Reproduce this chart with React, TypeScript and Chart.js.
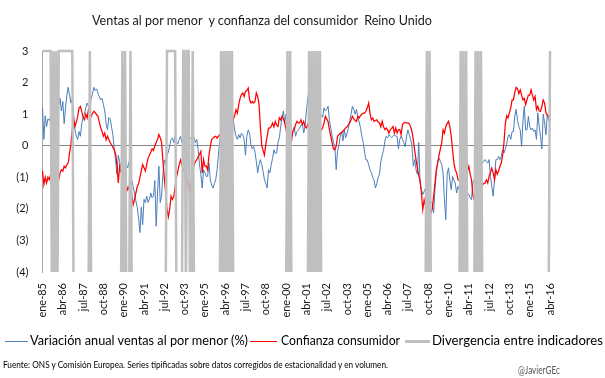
import React, { useEffect, useLayoutEffect, useRef } from 'react';
import { Chart, registerables } from 'chart.js';

Chart.register(...registerables);

// ---- categories ----
const MONTHS = ['ene', 'feb', 'mar', 'abr', 'may', 'jun', 'jul', 'ago', 'sep', 'oct', 'nov', 'dic'];
const START_YEAR = 1985;
const TICK_EVERY = 15; // one tick label every 15 months (ene-85, abr-86, ...)

// ---- series: Variación anual ventas al por menor (standardised), monthly ene-85 .. abr-16 ----
const retailSales = [
  1.2, 0.2, 0.95, 0.6, 0.85, 0.8, 0.9, 1.0, 0.8, 1.1, 0.9, 1.2,
  1.3, 1.5, 1.1, 1.4, 0.7, 1.2, 1.6, 1.85, 1.6, 1.35, 1.5, 1.0,
  0.5, 0.3, 0.2, 0.45, 0.3, 0.7, 0.9, 1.0, 1.2, 1.35, 1.25, 1.3,
  1.5, 1.65, 1.85, 1.75, 1.8, 1.65, 1.55, 1.45, 1.5, 1.3, 1.1, 0.7,
  0.5, 0.9, 0.85, 0.6, 0.35, -0.1, -0.45, -0.9, -0.3, -0.5, -0.7, -0.4,
  -0.5, -0.4, -0.6, -0.7, -0.5, -0.8, -1.1, -1.3, -1.5, -1.75, -1.95, -2.3,
  -2.75, -1.95, -2.5, -1.7, -1.8, -1.6, -1.8, -1.7, -1.5, -1.65, -1.6, -1.1,
  -2.55, -1.5, -0.65, -1.8, -1.6, -0.9, -0.45, -0.6, -0.3, -0.2, 0.0, 0.2,
  0.25, 0.1, 0.3, 0.1, 0.05, 0.2, 0.3, 0.1, 0.2, 0.15, 0.1, 0.25,
  0.2, 0.25, 0.2, 0.3, 0.25, 0.1, 0.2, -0.13, -0.6, -0.9, -1.34, -0.76,
  -0.85, -0.97, -0.97, -0.55, -1.08, -1.25, -1.34, -1.2, -1.08, -0.76, -0.3, 0.15,
  0.6, 1.0, 1.4, 1.7, 1.77, 1.6, 1.75, 1.67, 1.25, 0.8, 0.5, 0.3,
  0.2, 0.35, 0.25, 0.4, 0.35, 0.2, -0.3, 0.3, 0.5, 0.4, 0.03, -0.1,
  -0.02, -0.2, -0.5, -0.86, -0.6, -0.44, -0.6, -0.81, -1.08, -1.2, -1.34, -0.76,
  -0.86, -0.6, -0.4, -0.13, -0.25, -0.23, 0.1, 0.25, 0.6, 0.9, 1.1, 0.7,
  1.0, 0.3, 0.15, 0.1, 0.3, 0.45, 0.6, 0.3, 0.45, 0.5, 0.55, 0.65,
  0.7, 0.4, 0.6, 1.1, 1.5, 1.77, 1.55, 1.65, 1.7, 1.6, 1.5, 1.3,
  1.2, 1.0, 0.95, 0.9, 1.2, 1.1, 1.15, 1.25, 0.8, 0.55, 0.3, 0.1,
  -0.02, -0.76, -0.18, 0.0, 0.3, 0.45, 0.15, 0.5, 0.25, 0.4, 0.55, 0.8,
  1.0, 1.25, 1.15, 1.0, 1.15, 0.9, 0.75, 0.55, 0.3, 0.1, -0.2, -0.45,
  -0.45, -0.6, -0.76, -0.85, -1.0, -1.1, -1.34, -1.2, -1.0, -0.9, -0.5, -0.3,
  -0.15, 0.15, 0.3, 0.25, 0.35, 0.3, 0.25, 0.3, 0.35, 0.3, 0.3, -0.1,
  0.2, 0.3, 0.2, 0.1, -0.03, 0.3, 0.5, 0.35, 0.2, 0.0, -0.65, -0.44,
  -0.76, -0.9, 0.1, -1.18, -1.39, -1.55, -1.45, -1.35, -1.3, -1.5, -1.7, -1.8,
  -1.8, -2.13, -1.39, -0.86, -0.5, -0.39, -0.5, -0.6, -0.86, -1.71, -2.34, -0.9,
  -0.7, -1.08, -1.39, -0.97, -1.1, -1.18, -1.5, -1.29, -1.39, -1.4, -1.5, -1.55,
  -1.5, -1.55, -1.5, -1.55, -1.65, -1.71, -1.18, -1.08, -1.0, -0.9, -0.8, -0.7,
  -0.6, -0.55, -0.5, -0.44, -0.5, -0.55, -0.44, -0.97, -1.29, -1.6, -1.08, -0.44,
  -0.44, -0.34, -0.44, -0.34, -0.13, -0.23, -0.1, 0.05, 0.3, 0.35, 0.2, 0.45,
  0.45, 0.95, 1.15, 0.8, 0.6, 0.5, -0.02, 0.75, 1.25, 0.5, 0.5, 0.93,
  0.61, 0.5, 0.56, 0.45, 0.5, 0.2, 1.04, 0.6, 0.3, -0.1, 1.0, 0.72,
  0.35, 1.0, 0.8, 1.1,
];

// ---- series: Confianza consumidor (standardised) ----
const consumerConfidence = [
  -0.8, -1.23, -1.0, -1.18, -1.0, -1.08, -0.9, -1.1, -1.2, -1.1, -1.0, -1.1,
  -1.08, -0.86, -0.76, -0.8, -0.65, -0.7, -0.6, -0.55, -0.23, 0.05, 0.51, 0.82,
  0.61, 0.75, 0.93, 1.19, 1.24, 1.09, 0.9, 0.82, 1.0, 0.88, 1.14, 1.03,
  0.93, 1.03, 1.09, 1.05, 0.98, 0.93, 0.75, 0.56, 0.45, 0.3, 0.4, 0.19,
  0.3, 0.2, 0.1, 0.03, -0.05, -0.13, -0.25, -0.6, -1.18, -0.65, -0.85, -0.9,
  -1.0, -1.1, -1.25, -1.4, -1.3, -1.0, -1.6, -1.87, -1.7, -1.5, -1.3, -1.2,
  -1.0, -0.8, -0.6, -0.7, -0.8, -0.6, -0.4, -0.3, -0.2, -0.1, -0.15, 0.0,
  0.1, 0.2, 0.35, 0.25, 0.1, -0.5, -1.0, -1.5, -2.0, -2.25, -2.0, -1.6,
  -1.7, -1.6, -1.3, -1.0, -0.8, -0.6, -0.45, -0.6, -0.75, -0.85, -0.92, -1.1,
  -1.3, -1.5, -1.1, -0.86, -0.6, -0.5, -0.44, -0.35, -0.28, -0.18, -0.86, -0.44,
  -0.65, -0.65, -0.76, -0.3, -0.02, 0.2, 0.24, 0.28, 0.3, 0.24, 0.3, 0.35,
  0.35, 0.4, 0.45, 0.5, 0.55, 0.6, 0.6, 0.65, 0.72, 0.85, 0.95, 1.14,
  1.03, 1.3, 1.5, 1.62, 1.67, 1.56, 1.72, 1.75, 1.83, 1.46, 1.35, 1.4,
  1.35, 1.4, 1.67, 1.56, 1.3, 0.6, 0.0, -0.15, -0.3, 0.05, 0.3, 0.56,
  0.56, 0.61, 0.72, 0.6, 0.77, 0.65, 0.61, 0.88, 0.82, 0.93, 0.85, 0.72,
  0.51, 0.3, 0.15, 0.09, 0.15, 0.46, 0.51, 0.67, 0.77, 0.72, 0.72, 0.82,
  0.67, 0.77, 0.6, 0.56, 0.67, 0.5, -0.2, -0.5, -0.3, 0.0, 0.3, 0.45,
  0.5, 0.55, 0.5, 0.56, 0.72, 0.93, 0.85, 0.77, 0.51, 0.3, 0.09, -0.1,
  -0.13, -0.02, 0.3, 0.35, 0.4, 0.4, 0.46, 0.51, 0.56, 0.6, 0.66, 0.72,
  0.82, 0.93, 0.85, 0.8, 0.77, 0.93, 0.88, 0.95, 1.0, 1.03, 1.03, 1.09,
  1.2, 1.35, 1.03, 0.82, 0.88, 0.77, 0.8, 0.82, 0.75, 0.72, 0.6, 0.77,
  0.6, 0.51, 0.56, 0.5, 0.4, 0.51, 0.55, 0.61, 0.4, 0.56, 0.4, 0.51,
  0.51, 0.35, 0.67, 0.72, 0.74, 0.72, 0.72, 0.7, 0.6, 0.45, 0.19, -0.15,
  -0.44, -0.7, -0.95, -1.1, -1.5, -2.02, -1.71, -1.9, -2.0, -2.13, -2.24, -2.13,
  -2.0, -1.6, -1.18, -0.76, -0.55, -0.3, -0.1, 0.1, 0.5, 0.4, 0.61, 0.7,
  0.77, 0.6, 0.3, -0.13, -0.55, -0.76, -0.86, -1.08, -1.1, -1.0, -0.9, -0.8,
  -0.75, -0.7, -0.8, -0.65, -0.9, -1.08, -1.55, -1.71, -1.8, -1.6, -1.5, -1.3,
  -1.3, -1.25, -1.2, -1.18, -1.08, -1.18, -0.97, -0.85, -0.71, -0.86, -1.08, -0.76,
  -0.9, -0.8, -0.65, -0.55, -0.3, 0.1, 0.7, 0.95, 0.88, 1.05, 1.2, 1.45,
  1.45, 1.7, 1.85, 1.8, 1.65, 1.77, 1.6, 1.45, 1.5, 1.3, 1.45, 1.6,
  1.6, 1.77, 1.6, 1.45, 1.56, 1.14, 1.25, 1.1, 1.09, 1.25, 1.45, 1.35,
  1.04, 0.98, 0.9, 0.82,
];

// ---- series: Divergencia entre indicadores (month-index ranges where the flag is on) ----
const divergenceRanges = [
  [0, 6], [8, 8], [10, 10], [12, 22], [35, 35], [59, 59], [61, 61], [65, 65],
  [92, 98], [104, 105], [107, 108], [111, 111],
  [132, 132], [134, 134], [136, 136], [138, 138], [140, 140],
  [181, 181], [183, 183], [197, 197], [199, 199], [201, 201], [203, 203], [205, 205],
  [284, 284], [286, 286], [309, 309], [311, 311], [313, 313],
  [320, 320], [322, 322], [324, 324], [375, 375],
];
const DIV_ON = 3;
const DIV_OFF = -5;

// ---- axis ----
const Y_MIN = -4;
const Y_MAX = 3;

const TEXT_FONT = 'Lato, "Open Sans", sans-serif';

type FitProps = { text: string; left: number; width: number; baseline: number; size: number; color?: string };

function FitText({ text, left, width, baseline, size, color = '#000' }: FitProps) {
  const ref = useRef<HTMLSpanElement>(null);
  useLayoutEffect(() => {
    const el = ref.current;
    if (!el) return;
    el.style.transform = 'none';
    const w = el.getBoundingClientRect().width;
    if (w > 0) el.style.transform = `scaleX(${width / w})`;
  }, [text, width, size]);
  return (
    <span
      ref={ref}
      style={{
        position: 'absolute',
        left,
        top: baseline - size * 0.887,
        fontFamily: TEXT_FONT,
        fontSize: size,
        lineHeight: `${size}px`,
        color,
        whiteSpace: 'pre',
        display: 'inline-block',
        transformOrigin: '0 0',
      }}
    >
      {text}
    </span>
  );
}

function LegendLine({ left, width, top, color, thickness }: { left: number; width: number; top: number; color: string; thickness: number }) {
  return (
    <div
      style={{
        position: 'absolute',
        left,
        top,
        width,
        height: thickness,
        background: color,
      }}
    />
  );
}

export default function App() {
  const canvasRef = useRef<HTMLCanvasElement>(null);

  useEffect(() => {
    const canvas = canvasRef.current;
    if (!canvas) return;
    const labels = retailSales.map(
      (_, i) => `${MONTHS[i % 12]}-${String((START_YEAR + Math.floor(i / 12)) % 100).padStart(2, '0')}`
    );
    const divergence = retailSales.map((_, i) =>
      divergenceRanges.some(([a, b]) => i >= a && i <= b) ? DIV_ON : DIV_OFF
    );

    const tickFont = { family: TEXT_FONT, size: 11 };

    const chart = new Chart(canvas, {
      type: 'line',
      data: {
        labels,
        datasets: [
          {
            label: 'Divergencia entre indicadores',
            data: divergence,
            borderColor: '#bfbfbf',
            borderWidth: 2.5,
            pointRadius: 0,
            tension: 0,
            order: 0,
            clip: { left: 0, top: 2, right: 3, bottom: 0 },
          },
          {
            label: 'Confianza consumidor',
            data: consumerConfidence,
            borderColor: '#ff0000',
            borderWidth: 1.25,
            pointRadius: 0,
            tension: 0,
            order: 1,
          },
          {
            label: 'Variación anual ventas al por menor (%)',
            data: retailSales,
            borderColor: '#4a7ebb',
            borderWidth: 1,
            pointRadius: 0,
            tension: 0,
            order: 2,
          },
        ],
      },
      options: {
        animation: false,
        responsive: false,
        maintainAspectRatio: false,
        layout: { padding: { top: 51, right: 55, bottom: 0, left: 0 } },
        plugins: {
          legend: { display: false },
          title: { display: false },
          tooltip: { enabled: false },
        },
        scales: {
          x: {
            type: 'category',
            offset: false,
            grid: { display: false, drawTicks: false },
            border: { display: false },
            ticks: {
              autoSkip: false,
              minRotation: 90,
              maxRotation: 90,
              padding: 11,
              font: tickFont,
              color: '#1a1a1a',
            },
            afterBuildTicks: (scale: any) => {
              scale.ticks = scale.ticks.filter((t: any) => t.value % TICK_EVERY === 0);
            },
            afterFit: (scale: any) => {
              scale.height = 106;
            },
          },
          y: {
            min: Y_MIN,
            max: Y_MAX,
            ticks: {
              stepSize: 1,
              padding: 14,
              font: tickFont,
              color: '#1a1a1a',
              callback: (v: any) => (Number(v) < 0 ? `(${-Number(v)})` : `${v}`),
            },
            grid: {
              drawTicks: false,
              color: (ctx: any) => (ctx.tick && ctx.tick.value === 0 ? '#868686' : 'rgba(0,0,0,0)'),
              lineWidth: 1,
            },
            border: { display: true, color: '#a6a6a6', width: 1 },
            afterFit: (scale: any) => {
              scale.width = 42.5;
            },
          },
        },
      },
    });
    return () => chart.destroy();
  }, []);

  return (
    <div
      style={{
        position: 'fixed',
        left: 0,
        top: 0,
        width: 605,
        height: 378,
        background: '#ffffff',
        overflow: 'hidden',
      }}
    >
      <canvas
        ref={canvasRef}
        width={605}
        height={378}
        style={{ position: 'absolute', left: 0, top: 0, width: 605, height: 378 }}
      />
      <FitText
        text="Ventas al por menor  y confianza del consumidor  Reino Unido"
        left={92}
        width={340}
        baseline={25}
        size={14}
        color="#1a1a1a"
      />
      <LegendLine left={5} width={23} top={341} color="#4f81bd" thickness={1} />
      <FitText text="Variación anual ventas al por menor (%)" left={30} width={218} baseline={346} size={13} />
      <LegendLine left={250} width={27} top={341} color="#ff0000" thickness={1} />
      <FitText text="Confianza consumidor" left={281} width={119} baseline={346} size={13} />
      <LegendLine left={405} width={25} top={340} color="#bfbfbf" thickness={3} />
      <FitText text="Divergencia entre indicadores" left={432} width={171} baseline={346} size={13} />
      <FitText
        text="Fuente: ONS y Comisión Europea. Series tipificadas sobre datos corregidos de estacionalidad y en volumen."
        left={3}
        width={385}
        baseline={368.3}
        size={9.5}
      />
      <FitText text="@JavierGEc" left={518} width={42} baseline={373.3} size={11} color="#595959" />
    </div>
  );
}
